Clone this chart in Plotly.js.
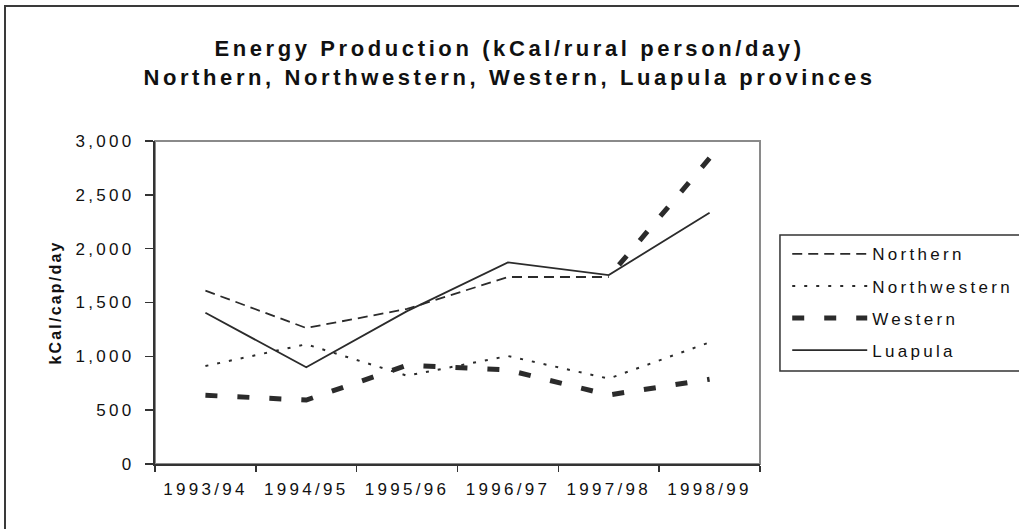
<!DOCTYPE html>
<html>
<head>
<meta charset="utf-8">
<script src="https://cdn.plot.ly/plotly-3.0.1.min.js"></script>
<style>
  html, body { margin: 0; padding: 0; background: #fff; overflow: hidden; }
  #chart { width: 1019px; height: 529px; }
  #frame { position: absolute; left: 4px; top: 5px; width: 1100px; height: 600px;
           border-left: 2px solid #3a3a3a; border-top: 2px solid #3a3a3a; pointer-events: none; }
  .xtick text, .ytick text, .legendtext { letter-spacing: 3.3px; }
  .gtitle { letter-spacing: 3.6px; }
  .ytitle { letter-spacing: 2.2px; }
</style>
</head>
<body>
<div id="chart"></div>
<div id="frame"></div>
<script>
var categories = ['1993/94', '1994/95', '1995/96', '1996/97', '1997/98', '1998/99'];
var northern = [1610, 1263, 1440, 1737, 1737, 2840];
var northwestern = [910, 1112, 820, 1003, 793, 1130];
var western = [638, 594, 917, 873, 641, 787];
var luapula = [1405, 898, 1420, 1873, 1755, 2334];
var seriesNames = ['Northern', 'Northwestern', 'Western', 'Luapula'];

var ink = '#2b2b2b';
var traces = [
  { x: categories.slice(0, 5), y: northern.slice(0, 5), name: seriesNames[0], legendgroup: 'g1',
    mode: 'lines', line: { color: ink, width: 1.8, dash: '10px,6px' } },
  { x: categories.slice(4).reverse(), y: northern.slice(4).reverse(), name: seriesNames[0], legendgroup: 'g1', showlegend: false,
    mode: 'lines', line: { color: ink, width: 5, dash: '12px,20px' } },
  { x: categories, y: northwestern, name: seriesNames[1], legendgroup: 'g2',
    mode: 'lines', line: { color: ink, width: 2, dash: '3px,9px' } },
  { x: categories, y: western, name: seriesNames[2], legendgroup: 'g3',
    mode: 'lines', line: { color: ink, width: 5, dash: '12px,20px' } },
  { x: categories, y: luapula, name: seriesNames[3], legendgroup: 'g4',
    mode: 'lines', line: { color: ink, width: 1.8 } }
];

var layout = {
  width: 1019, height: 529,
  margin: { l: 155, r: 259, t: 141, b: 65, pad: 0, autoexpand: false },
  paper_bgcolor: '#fff', plot_bgcolor: '#fff',
  font: { family: '"Liberation Sans", Arial, sans-serif', color: '#111', size: 17 },
  title: {
    text: 'Energy Production (kCal/rural person/day)<br>Northern, Northwestern, Western, Luapula provinces',
    font: { family: '"Liberation Sans", Arial, sans-serif', size: 22, color: '#111', weight: 'bold' },
    x: 0.5, xref: 'container', xanchor: 'center',
    y: 0.894, yref: 'container', yanchor: 'top'
  },
  xaxis: {
    type: 'category', range: [-0.5, 5.5], tickson: 'boundaries',
    showline: true, linecolor: '#333', linewidth: 2, mirror: false,
    ticks: 'outside', ticklen: 6, tickcolor: '#333', tickwidth: 1.5,
    ticklabelstandoff: 9,
    showgrid: false, zeroline: false, fixedrange: true, automargin: false,
    tickfont: { size: 17, color: '#111' }
  },
  yaxis: {
    range: [0, 3000], dtick: 500, tickformat: ',d',
    showline: true, linecolor: '#333', linewidth: 2, mirror: false,
    ticks: 'outside', ticklen: 8, tickcolor: '#333', tickwidth: 1.5,
    ticklabelstandoff: 7,
    showgrid: false, zeroline: false, fixedrange: true, automargin: false,
    tickfont: { size: 17, color: '#111' },
    title: { text: 'kCal/cap/day', standoff: 10,
             font: { size: 16, color: '#111', weight: 'bold' } }
  },
  showlegend: true,
  legend: {
    x: 1.045, xanchor: 'left', y: 0.705, yanchor: 'top',
    bgcolor: 'rgba(0,0,0,0)', borderwidth: 0,
    traceorder: 'grouped', tracegroupgap: 7, itemwidth: 75,
    font: { size: 17, color: '#111' }
  },
  shapes: [
    { type: 'rect', xref: 'paper', yref: 'paper', x0: 0, x1: 1, y0: 0, y1: 1,
      line: { color: '#8a8a8a', width: 2 }, layer: 'below' },
    { type: 'rect', xref: 'paper', yref: 'paper', x0: 1.033, x1: 1.6, y0: 0.288, y1: 0.709,
      line: { color: '#333', width: 1.5 }, fillcolor: 'rgba(0,0,0,0)', layer: 'above' }
  ]
};

Plotly.newPlot('chart', traces, layout, { displayModeBar: false, staticPlot: true });
</script>
</body>
</html>
